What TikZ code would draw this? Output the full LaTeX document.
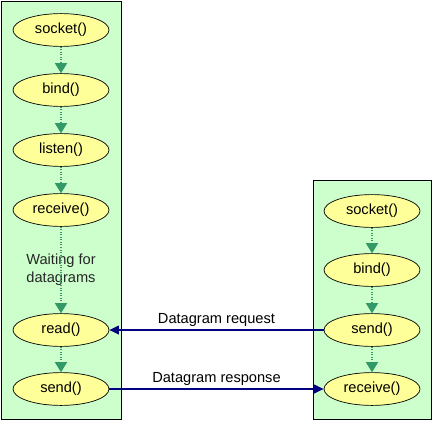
\documentclass[tikz,border=0pt]{standalone}
\usepackage{fontspec}
\setmainfont{Liberation Sans}
\usetikzlibrary{shapes.geometric,arrows.meta}

\definecolor{panelgreen}{RGB}{204,255,204}
\definecolor{callyellow}{RGB}{255,255,153}
\definecolor{flowgreen}{RGB}{51,153,102}
\definecolor{msgblue}{RGB}{0,0,128}

\tikzset{
  panel/.style={draw=black,fill=panelgreen,line width=0.6pt},
  call/.style={shape=ellipse,draw=black,fill=callyellow,line width=0.5pt,
    minimum width=2.4cm,minimum height=0.82cm,inner sep=0pt,
    font=\fontsize{10.4}{12}\selectfont},
  flow/.style={flowgreen,line width=0.9pt,dash pattern=on 0.6pt off 1.2pt,
    -{Triangle[width=0.3cm,length=0.25cm]}},
  msg/.style={msgblue,line width=1pt,-{Triangle[width=0.22cm,length=0.24cm]}},
  lbl/.style={font=\fontsize{10.4}{12.5}\selectfont,align=center}
}

\begin{document}
\begin{tikzpicture}[x=0.025cm,y=-0.025cm]

        	\useasboundingbox (0,0) rectangle (433,421);
        	\fill[white] (0,0) rectangle (433,421);

        	\draw[panel] (1,1) rectangle (121,419);
        	\draw[panel] (313,180) rectangle (431,419);

        	\node[call] (socketA) at (61, 30) {socket()};
        	\node[call] (bindA) at (61, 90) {bind()};
        	\node[call] (listenA) at (61, 150) {listen()};
        	\node[call] (receiveA) at (61, 210) {receive()};
        	\node[call] (readA) at (61, 330) {read()};
        	\node[call] (sendA) at (61, 389) {send()};

        	\node[call] (socketB) at (372, 211) {socket()};
        	\node[call] (bindB) at (372, 270) {bind()};
        	\node[call] (sendB) at (372, 330) {send()};
        	\node[call] (receiveB) at (372, 389) {receive()};

        	\node[lbl,text=black!85] (wait) at (61, 270) {Waiting for\\datagrams};

        	\path[flow] (socketA) edge (bindA);
        	\path[flow] (bindA) edge (listenA);
        	\path[flow] (listenA) edge (receiveA);
        	\path[flow] (receiveA) edge (readA);
        	\path[flow] (readA) edge (sendA);

        	\path[flow] (socketB) edge (bindB);
        	\path[flow] (bindB) edge (sendB);
        	\path[flow] (sendB) edge (receiveB);

        	\path[msg] (sendB) edge node[lbl,above,text=black,yshift=-1.5pt] {Datagram request} (readA);
        	\path[msg] (sendA) edge node[lbl,above,text=black,yshift=-1.5pt] {Datagram response} (receiveB);

\end{tikzpicture}
\end{document}
